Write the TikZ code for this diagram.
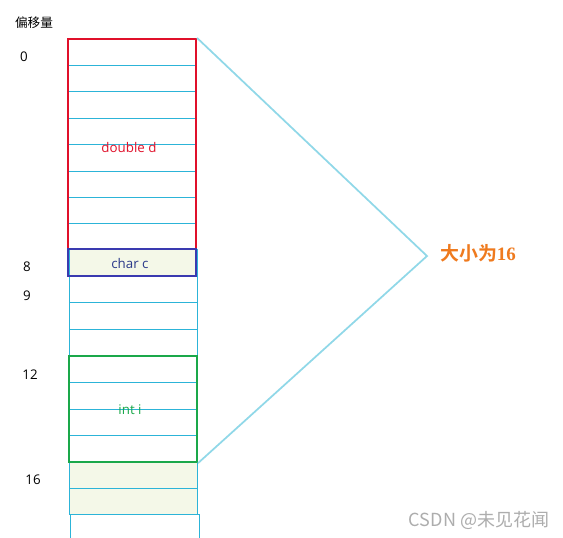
\documentclass[tikz,border=0pt]{standalone}
\usepackage{fontspec}
\setmainfont{Open Sans}
\newfontfamily\cjk{Noto Sans CJK SC}
\newfontfamily\cjkb{Noto Sans CJK SC Bold}
\newfontfamily\serifb{Liberation Serif}
\usetikzlibrary{fit}
\definecolor{cellc}{HTML}{2CB4D8}
\definecolor{redc}{HTML}{E0102A}
\definecolor{bluec}{HTML}{3A3AB0}
\definecolor{greenc}{HTML}{1AA84A}
\definecolor{brk}{HTML}{90D8E8}
\definecolor{orangec}{HTML}{EF7A1E}
\definecolor{charc}{HTML}{2B3A8A}
\definecolor{tint}{HTML}{F4F8E8}
\tikzset{
  cell/.style={draw=cellc, line width=0.6pt},
  membox/.style={draw, line width=1.6pt, inner sep=0pt},
  offs/.style={font=\fontsize{10}{12}\selectfont, text=black},
  bracket/.style={draw=brk, line width=1.3pt},
}
\begin{document}
\begin{tikzpicture}[x=0.75pt,y=-0.75pt]
\useasboundingbox[fill=white] (0,0) rectangle (563,537);
% faint background tint of some cells
\fill[tint] (69,249) rectangle (197,276);
\fill[tint] (69,462) rectangle (197,514);
% upper cells
\foreach \y in {65.3,91.6,118,144.3,171,197.3,223.6}
  \draw[cell] (68,\y) -- (196,\y);
% lower cells
\draw[cell] (69,249) -- (69,514);
\draw[cell] (197,249) -- (197,514);
\foreach \y in {276,302.5,329,356,382.5,409,435.5,462,488,514}
  \draw[cell] (69,\y) -- (197,\y);
\draw[cell] (70,514) -- (199,514);
\draw[cell] (70,514) -- (70,540);
\draw[cell] (199,514) -- (199,540);
% member boxes
\node[membox, draw=redc, fit={(68,39)(196,249)}] (dbl) {};
\node[membox, draw=bluec, fit={(68,249)(196,276)}] (chr) {};
\node[membox, draw=greenc, fit={(69,356)(197,462)}] (int) {};
\node[text=redc, font=\fontsize{10}{12}\selectfont] (dbllab) at (129,147) {double d};
\node[text=charc, font=\fontsize{10}{12}\selectfont] (chrlab) at (130,263) {char c};
\node[text=greenc, font=\fontsize{10}{12}\selectfont] (intlab) at (130,410) {int i};
% offsets
\node[font=\cjk\fontsize{9.5}{11}\selectfont] (title) at (34,23) {偏移量};
\node[offs] (o0) at (24,57) {0};
\node[offs] (o8) at (27,267) {8};
\node[offs] (o9) at (27,296) {9};
\node[offs] (o12) at (30,375) {12};
\node[offs] (o16) at (33,480) {16};
% bracket
\coordinate (tip) at (427,256);
\draw[bracket] (dbl.north east) -- (tip) -- (int.south east);
\node[text=orangec, font=\fontsize{14.2}{16}\selectfont] (size) at (478,253) {{\cjkb 大小为}{\serifb\bfseries 16}};
% watermark
\node[text=black!32, font=\cjk\fontsize{13.5}{15}\selectfont] (wm) at (479,520) {CSDN @未见花闻};
\end{tikzpicture}
\end{document}
